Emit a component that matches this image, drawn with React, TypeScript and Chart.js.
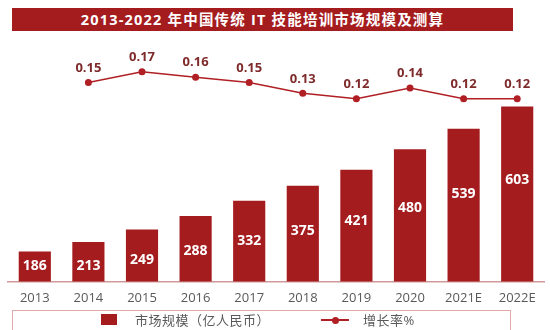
import React, { useEffect, useRef } from "react";
import { Chart, registerables } from "chart.js";

Chart.register(...registerables);

const titleText = "2013-2022 年中国传统 IT 技能培训市场规模及测算";
const categories = ["2013", "2014", "2015", "2016", "2017", "2018", "2019", "2020", "2021E", "2022E"];
const marketSize = [186, 213, 249, 288, 332, 375, 421, 480, 539, 603];
const growthRate: (number | null)[] = [null, 0.15, 0.17, 0.16, 0.15, 0.13, 0.12, 0.14, 0.12, 0.12];
const barSeriesName = "市场规模（亿人民币）";
const lineSeriesName = "增长率%";

const BAR_COLOR = "#a51c1f";
const LINE_COLOR = "#b01f24";
const FONT = '"Open Sans", "Noto Sans CJK SC", sans-serif';

const valueLabels = {
  id: "valueLabels",
  afterDatasetsDraw(chart: any) {
    const ctx = chart.ctx;
    const yScale = chart.scales.y;
    const bottom = chart.chartArea.bottom;
    const barMeta = chart.getDatasetMeta(0);
    ctx.save();
    ctx.textAlign = "center";
    ctx.textBaseline = "middle";
    ctx.font = `bold 14px ${FONT}`;
    ctx.fillStyle = "#ffffff";
    barMeta.data.forEach((el: any, i: number) => {
      const v = marketSize[i];
      let y = yScale.getPixelForValue(v * 0.65);
      y = Math.min(y, bottom - 15);
      ctx.fillText(String(v), el.x, y);
    });
    const lineMeta = chart.getDatasetMeta(1);
    ctx.font = `bold 13px ${FONT}`;
    ctx.fillStyle = "#7e2a2b";
    lineMeta.data.forEach((pt: any, i: number) => {
      const v = growthRate[i];
      if (v == null) return;
      ctx.fillText(v.toFixed(2), pt.x, pt.y - 14.5);
    });
    ctx.restore();
  },
};

export default function App() {
  const canvasRef = useRef<HTMLCanvasElement | null>(null);

  useEffect(() => {
    if (!canvasRef.current) return;
    const chart = new Chart(canvasRef.current, {
      type: "bar",
      data: {
        labels: categories,
        datasets: [
          {
            type: "bar",
            label: barSeriesName,
            data: marketSize,
            backgroundColor: BAR_COLOR,
            barPercentage: 0.6,
            categoryPercentage: 1.0,
            yAxisID: "y",
            order: 1,
          },
          {
            type: "line",
            label: lineSeriesName,
            data: growthRate,
            borderColor: LINE_COLOR,
            backgroundColor: LINE_COLOR,
            borderWidth: 1.5,
            pointRadius: 3.5,
            pointBackgroundColor: LINE_COLOR,
            pointBorderWidth: 0,
            spanGaps: false,
            tension: 0,
            yAxisID: "y1",
            order: 0,
          } as any,
        ],
      },
      options: {
        animation: false,
        responsive: false,
        maintainAspectRatio: false,
        layout: { padding: { left: 8, right: 6, top: 45, bottom: 15 } },
        plugins: {
          legend: { display: false },
          tooltip: { enabled: false },
          title: { display: false },
        },
        scales: {
          x: {
            grid: { display: false, drawTicks: false },
            border: { display: true, color: "#d09a9a", width: 1.5 },
            ticks: {
              color: "#595959",
              font: { size: 13, family: FONT },
              padding: 9,
            },
          },
          y: { display: false, min: 100, max: 780 },
          y1: { display: false, min: -0.22, max: 0.22 },
        },
      },
      plugins: [valueLabels],
    });
    return () => chart.destroy();
  }, []);

  return (
    <div style={{ position: "fixed", left: 0, top: 0, width: 550, height: 330, background: "#fff", fontFamily: FONT }}>
      <div
        style={{
          position: "absolute",
          left: 12,
          top: 8,
          width: 501,
          height: 23,
          background: BAR_COLOR,
          color: "#fff",
          fontWeight: 700,
          fontSize: 14.5,
          letterSpacing: "1.2px",
          lineHeight: "23px",
          textAlign: "center",
          fontFamily: FONT,
          whiteSpace: "nowrap",
        }}
      >
        {titleText}
      </div>
      <canvas ref={canvasRef} width={550} height={330} style={{ position: "absolute", left: 0, top: 0 }} />
      <div
        style={{
          position: "absolute",
          left: 12,
          top: 310,
          width: 499,
          height: 20,
          boxSizing: "border-box",
          border: "1px solid #e3a8a8",
          borderBottom: "none",
        }}
      >
        <div style={{ position: "absolute", left: 88, top: 3, width: 16, height: 11, background: BAR_COLOR }} />
        <div style={{ position: "absolute", left: 122, top: 0, fontSize: 13, letterSpacing: "0.5px", lineHeight: "18px", color: "#595959", whiteSpace: "nowrap" }}>
          {barSeriesName}
        </div>
        <div style={{ position: "absolute", left: 308, top: 8, width: 28, height: 2, background: LINE_COLOR }} />
        <div style={{ position: "absolute", left: 318.5, top: 5.5, width: 7, height: 7, borderRadius: "50%", background: LINE_COLOR }} />
        <div style={{ position: "absolute", left: 350, top: 0, fontSize: 13, letterSpacing: "0.5px", lineHeight: "18px", color: "#595959", whiteSpace: "nowrap" }}>
          {lineSeriesName}
        </div>
      </div>
    </div>
  );
}
